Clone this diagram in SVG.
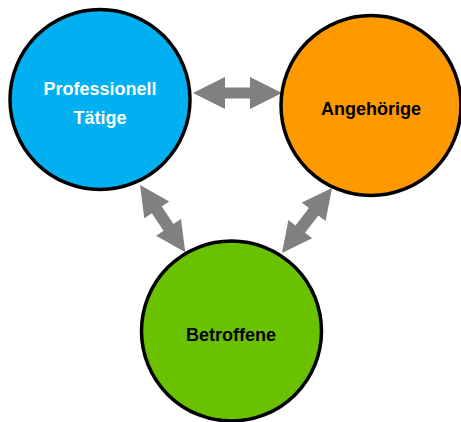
<svg xmlns="http://www.w3.org/2000/svg" width="461" height="422" viewBox="0 0 461 422">
<style>
.node{stroke:#000;stroke-width:3.5}
.lbl{font-family:"Liberation Sans",Arial,sans-serif;font-weight:bold;font-size:18px;text-anchor:middle}
.arr{fill:#808080;stroke:none}
</style>
<rect width="461" height="422" fill="#fff"/>
<g id="connectors">
<polygon class="arr" transform="translate(193,93)" points="0,0 32,-16 32,-5.5 57,-5.5 57,-16 89,0 57,16 57,5.5 32,5.5 32,16"/>
<polygon class="arr" transform="translate(140,185) rotate(56)" points="0,0 30,-15 30,-6 51,-6 51,-15 81,0 51,15 51,6 30,6 30,15"/>
<polygon class="arr" transform="translate(332,188) rotate(127.6)" points="0,0 30,-15 30,-6 52,-6 52,-15 82,0 52,15 52,6 30,6 30,15"/>
</g>
<g id="professionell">
<circle class="node" cx="100" cy="99.5" r="90" fill="#00B0F0"/>
<text class="lbl" x="100" y="95" fill="#fff">Professionell</text>
<text class="lbl" x="100" y="124" fill="#fff">Tätige</text>
</g>
<g id="angehoerige">
<circle class="node" cx="371" cy="105.5" r="90" fill="#FF9900"/>
<text class="lbl" x="371" y="115" fill="#000">Angehörige</text>
</g>
<g id="betroffene">
<circle class="node" cx="231.5" cy="331" r="90" fill="#6AC100"/>
<text class="lbl" x="231" y="341" fill="#000">Betroffene</text>
</g>
</svg>
